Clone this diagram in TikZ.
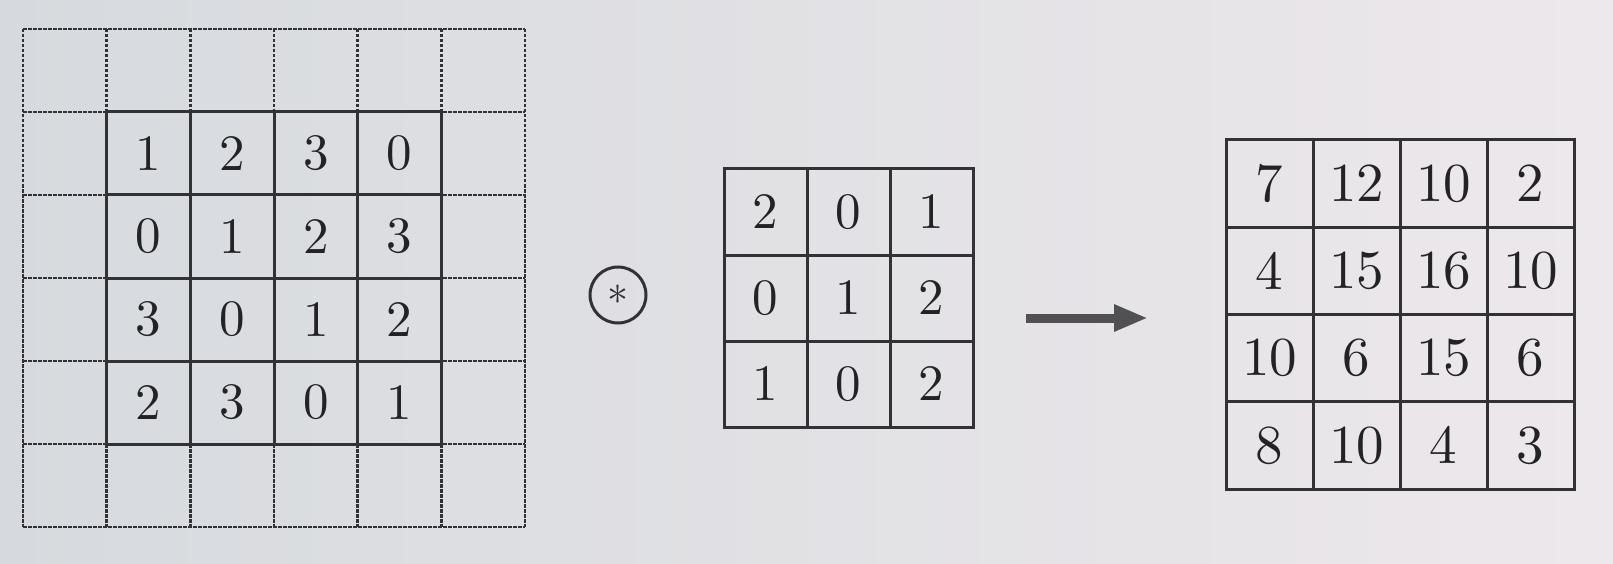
\documentclass[tikz,border=0pt]{standalone}
\usetikzlibrary{arrows.meta}
\definecolor{ink}{RGB}{50,50,54}
\definecolor{txt}{RGB}{35,35,38}
\definecolor{bgL}{RGB}{214,218,222}
\definecolor{bgR}{RGB}{237,232,235}
\newcommand{\bignum}[1]{\scalebox{5.1}{#1}}
\newcommand{\outnum}[1]{\scalebox{5.5}{#1}}
\tikzset{
  padline/.style={ink, line width=2.6pt, dash pattern=on 3.5pt off 1.5pt},
  cellbox/.style={draw=ink, line width=3pt, inner sep=0pt, text=txt, font=\fontsize{10}{12}\selectfont},
}
\begin{document}
\begin{tikzpicture}[x=1pt,y=-1pt]
\useasboundingbox (0,0) rectangle (1613,564);
\shade[left color=bgL, right color=bgR] (0,0) rectangle (1613,564);
% ---- padded input grid (6x6, dashed outer ring) ----
\def\Lx{23}\def\Ly{29}\def\Lw{83.67}\def\Lh{83}
\foreach \i in {0,...,6}{
  \draw[padline] ({\Lx+\i*\Lw},\Ly) -- ({\Lx+\i*\Lw},{\Ly+6*\Lh});
  \draw[padline] (\Lx,{\Ly+\i*\Lh}) -- ({\Lx+6*\Lw},{\Ly+\i*\Lh});
}
\foreach \row [count=\r] in {{1,2,3,0},{0,1,2,3},{3,0,1,2},{2,3,0,1}}{
  \foreach \v [count=\c] in \row{
    \node[cellbox, minimum width=\Lw pt, minimum height=\Lh pt]
      (L-\r-\c) at ({\Lx+(\c+0.5)*\Lw},{\Ly+(\r+0.5)*\Lh}) {\bignum{\v}};
  }
}
% ---- convolution operator ----
\node[circle, draw=ink, line width=3pt, minimum size=56pt, inner sep=0pt, text=ink,
      font=\fontsize{10}{12}\selectfont] (op) at (618,295) {\scalebox{4.2}{$\ast$}};
% ---- kernel 3x3 ----
\def\Kx{724}\def\Ky{169}\def\Kw{83}\def\Kh{86}
\foreach \row [count=\r] in {{2,0,1},{0,1,2},{1,0,2}}{
  \foreach \v [count=\c] in \row{
    \node[cellbox, minimum width=\Kw pt, minimum height=\Kh pt]
      (K-\r-\c) at ({\Kx+(\c-0.5)*\Kw},{\Ky+(\r-0.5)*\Kh}) {\bignum{\v}};
  }
}
% ---- arrow ----
\coordinate (a1) at (1026,318);
\coordinate (a2) at (1148,318);
\draw[ink!85, line width=9pt, -{Triangle[length=34pt,width=25pt]}] (a1) -- (a2);
% ---- output 4x4 ----
\def\Ox{1226}\def\Oy{140}\def\Ow{87}\def\Oh{87.25}
\foreach \row [count=\r] in {{7,12,10,2},{4,15,16,10},{10,6,15,6},{8,10,4,3}}{
  \foreach \v [count=\c] in \row{
    \node[cellbox, minimum width=\Ow pt, minimum height=\Oh pt]
      (O-\r-\c) at ({\Ox+(\c-0.5)*\Ow},{\Oy+(\r-0.5)*\Oh}) {\outnum{\v}};
  }
}
\end{tikzpicture}
\end{document}
